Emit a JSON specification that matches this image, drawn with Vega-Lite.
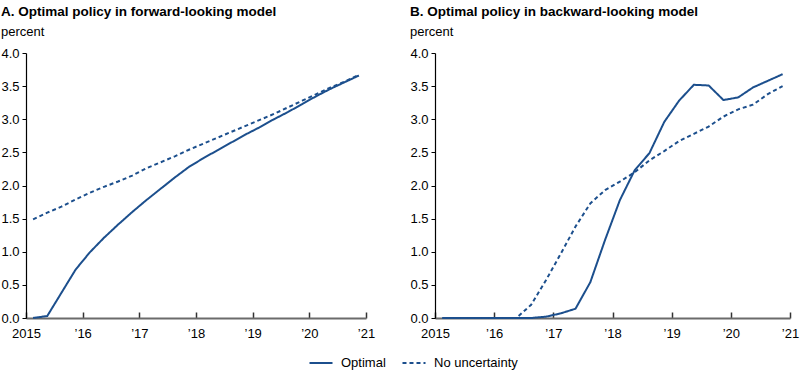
{
  "$schema": "https://vega.github.io/schema/vega-lite/v6.json",
  "padding": {"left": 0, "top": 4, "right": 3, "bottom": 0},
  "background": "white",
  "config": {
    "font": "Liberation Sans",
    "view": {"stroke": null},
    "axis": {"grid": false, "labelFont": "Liberation Sans", "labelFontSize": 13, "labelColor": "#000", "title": null},
    "title": {"anchor": "start", "frame": "bounds", "font": "Liberation Sans", "fontSize": 13.5, "fontWeight": "bold", "color": "#000", "subtitleFont": "Liberation Sans", "subtitleFontSize": 13, "subtitleColor": "#000", "subtitlePadding": 8, "offset": 8},
    "legend": {"labelFont": "Liberation Sans", "labelFontSize": 13, "labelColor": "#000"},
    "concat": {"spacing": 34}
  },
  "datasets": {
    "a": [
      {"year": 2015.125, "value": 0.0, "series": "Optimal"},
      {"year": 2015.375, "value": 0.03, "series": "Optimal"},
      {"year": 2015.625, "value": 0.38, "series": "Optimal"},
      {"year": 2015.875, "value": 0.73, "series": "Optimal"},
      {"year": 2016.125, "value": 0.99, "series": "Optimal"},
      {"year": 2016.375, "value": 1.21, "series": "Optimal"},
      {"year": 2016.625, "value": 1.41, "series": "Optimal"},
      {"year": 2016.875, "value": 1.60, "series": "Optimal"},
      {"year": 2017.125, "value": 1.78, "series": "Optimal"},
      {"year": 2017.375, "value": 1.95, "series": "Optimal"},
      {"year": 2017.625, "value": 2.12, "series": "Optimal"},
      {"year": 2017.875, "value": 2.28, "series": "Optimal"},
      {"year": 2018.125, "value": 2.41, "series": "Optimal"},
      {"year": 2018.375, "value": 2.53, "series": "Optimal"},
      {"year": 2018.625, "value": 2.65, "series": "Optimal"},
      {"year": 2018.875, "value": 2.77, "series": "Optimal"},
      {"year": 2019.125, "value": 2.88, "series": "Optimal"},
      {"year": 2019.375, "value": 3.00, "series": "Optimal"},
      {"year": 2019.625, "value": 3.11, "series": "Optimal"},
      {"year": 2019.875, "value": 3.23, "series": "Optimal"},
      {"year": 2020.125, "value": 3.35, "series": "Optimal"},
      {"year": 2020.375, "value": 3.46, "series": "Optimal"},
      {"year": 2020.625, "value": 3.56, "series": "Optimal"},
      {"year": 2020.875, "value": 3.66, "series": "Optimal"},
      {"year": 2015.125, "value": 1.49, "series": "No uncertainty"},
      {"year": 2015.375, "value": 1.59, "series": "No uncertainty"},
      {"year": 2015.625, "value": 1.68, "series": "No uncertainty"},
      {"year": 2015.875, "value": 1.79, "series": "No uncertainty"},
      {"year": 2016.125, "value": 1.89, "series": "No uncertainty"},
      {"year": 2016.375, "value": 1.98, "series": "No uncertainty"},
      {"year": 2016.625, "value": 2.06, "series": "No uncertainty"},
      {"year": 2016.875, "value": 2.15, "series": "No uncertainty"},
      {"year": 2017.125, "value": 2.26, "series": "No uncertainty"},
      {"year": 2017.375, "value": 2.35, "series": "No uncertainty"},
      {"year": 2017.625, "value": 2.44, "series": "No uncertainty"},
      {"year": 2017.875, "value": 2.54, "series": "No uncertainty"},
      {"year": 2018.125, "value": 2.63, "series": "No uncertainty"},
      {"year": 2018.375, "value": 2.72, "series": "No uncertainty"},
      {"year": 2018.625, "value": 2.81, "series": "No uncertainty"},
      {"year": 2018.875, "value": 2.90, "series": "No uncertainty"},
      {"year": 2019.125, "value": 2.99, "series": "No uncertainty"},
      {"year": 2019.375, "value": 3.08, "series": "No uncertainty"},
      {"year": 2019.625, "value": 3.18, "series": "No uncertainty"},
      {"year": 2019.875, "value": 3.28, "series": "No uncertainty"},
      {"year": 2020.125, "value": 3.38, "series": "No uncertainty"},
      {"year": 2020.375, "value": 3.48, "series": "No uncertainty"},
      {"year": 2020.625, "value": 3.57, "series": "No uncertainty"},
      {"year": 2020.875, "value": 3.67, "series": "No uncertainty"}
    ],
    "b": [
      {"year": 2015.125, "value": 0.0, "series": "Optimal"},
      {"year": 2015.375, "value": 0.0, "series": "Optimal"},
      {"year": 2015.625, "value": 0.0, "series": "Optimal"},
      {"year": 2015.875, "value": 0.0, "series": "Optimal"},
      {"year": 2016.125, "value": 0.0, "series": "Optimal"},
      {"year": 2016.375, "value": 0.0, "series": "Optimal"},
      {"year": 2016.625, "value": 0.0, "series": "Optimal"},
      {"year": 2016.875, "value": 0.02, "series": "Optimal"},
      {"year": 2017.125, "value": 0.07, "series": "Optimal"},
      {"year": 2017.375, "value": 0.14, "series": "Optimal"},
      {"year": 2017.625, "value": 0.54, "series": "Optimal"},
      {"year": 2017.875, "value": 1.18, "series": "Optimal"},
      {"year": 2018.125, "value": 1.78, "series": "Optimal"},
      {"year": 2018.375, "value": 2.23, "series": "Optimal"},
      {"year": 2018.625, "value": 2.49, "series": "Optimal"},
      {"year": 2018.875, "value": 2.96, "series": "Optimal"},
      {"year": 2019.125, "value": 3.28, "series": "Optimal"},
      {"year": 2019.375, "value": 3.52, "series": "Optimal"},
      {"year": 2019.625, "value": 3.51, "series": "Optimal"},
      {"year": 2019.875, "value": 3.29, "series": "Optimal"},
      {"year": 2020.125, "value": 3.33, "series": "Optimal"},
      {"year": 2020.375, "value": 3.48, "series": "Optimal"},
      {"year": 2020.625, "value": 3.58, "series": "Optimal"},
      {"year": 2020.875, "value": 3.68, "series": "Optimal"},
      {"year": 2015.125, "value": 0.0, "series": "No uncertainty"},
      {"year": 2015.375, "value": 0.0, "series": "No uncertainty"},
      {"year": 2015.625, "value": 0.0, "series": "No uncertainty"},
      {"year": 2015.875, "value": 0.0, "series": "No uncertainty"},
      {"year": 2016.125, "value": 0.0, "series": "No uncertainty"},
      {"year": 2016.375, "value": 0.0, "series": "No uncertainty"},
      {"year": 2016.625, "value": 0.2, "series": "No uncertainty"},
      {"year": 2016.875, "value": 0.57, "series": "No uncertainty"},
      {"year": 2017.125, "value": 0.97, "series": "No uncertainty"},
      {"year": 2017.375, "value": 1.38, "series": "No uncertainty"},
      {"year": 2017.625, "value": 1.73, "series": "No uncertainty"},
      {"year": 2017.875, "value": 1.93, "series": "No uncertainty"},
      {"year": 2018.125, "value": 2.06, "series": "No uncertainty"},
      {"year": 2018.375, "value": 2.2, "series": "No uncertainty"},
      {"year": 2018.625, "value": 2.38, "series": "No uncertainty"},
      {"year": 2018.875, "value": 2.52, "series": "No uncertainty"},
      {"year": 2019.125, "value": 2.67, "series": "No uncertainty"},
      {"year": 2019.375, "value": 2.78, "series": "No uncertainty"},
      {"year": 2019.625, "value": 2.89, "series": "No uncertainty"},
      {"year": 2019.875, "value": 3.04, "series": "No uncertainty"},
      {"year": 2020.125, "value": 3.15, "series": "No uncertainty"},
      {"year": 2020.375, "value": 3.22, "series": "No uncertainty"},
      {"year": 2020.625, "value": 3.38, "series": "No uncertainty"},
      {"year": 2020.875, "value": 3.5, "series": "No uncertainty"}
    ]
  },
  "hconcat": [
    {
      "title": {"text": "A. Optimal policy in forward-looking model", "subtitle": "percent"},
      "width": 340,
      "height": 265,
      "data": {"name": "a"},
      "mark": {"type": "line", "strokeWidth": 2, "color": "#1c4f8d"},
      "encoding": {
        "x": {"field": "year", "type": "quantitative", "scale": {"domain": [2015, 2021], "nice": false, "zero": false},
          "axis": {"values": [2015, 2016, 2017, 2018, 2019, 2020, 2021], "labelExpr": "datum.value == 2015 ? '2015' : '’' + slice(toString(datum.value), 2)", "tickSize": -6, "tickColor": "#333", "tickWidth": 1.5, "labelPadding": 15, "domainColor": "#6b6b6b", "domainWidth": 2, "labelFlush": false}},
        "y": {"field": "value", "type": "quantitative", "scale": {"domain": [0, 4], "nice": false},
          "axis": {"values": [0, 0.5, 1, 1.5, 2, 2.5, 3, 3.5, 4], "format": ".1f", "tickSize": 4, "tickColor": "#000", "domainColor": "#000", "domainWidth": 1.2, "labelPadding": 3}},
        "strokeDash": {"field": "series", "type": "nominal", "scale": {"domain": ["Optimal", "No uncertainty"], "range": [[1, 0], [4, 3]]},
          "legend": {"title": null, "orient": "none", "legendX": 282, "legendY": 297, "direction": "horizontal", "symbolSize": 530, "symbolStrokeWidth": 2, "symbolStrokeColor": "#1c4f8d", "columnPadding": 12, "labelOffset": 7}}
      }
    },
    {
      "title": {"text": "B. Optimal policy in backward-looking model", "subtitle": "percent"},
      "width": 355,
      "height": 265,
      "data": {"name": "b"},
      "mark": {"type": "line", "strokeWidth": 2, "color": "#1c4f8d"},
      "encoding": {
        "x": {"field": "year", "type": "quantitative", "scale": {"domain": [2015, 2021], "nice": false, "zero": false},
          "axis": {"values": [2015, 2016, 2017, 2018, 2019, 2020, 2021], "labelExpr": "datum.value == 2015 ? '2015' : '’' + slice(toString(datum.value), 2)", "tickSize": -6, "tickColor": "#333", "tickWidth": 1.5, "labelPadding": 15, "domainColor": "#6b6b6b", "domainWidth": 2, "labelFlush": false}},
        "y": {"field": "value", "type": "quantitative", "scale": {"domain": [0, 4], "nice": false},
          "axis": {"values": [0, 0.5, 1, 1.5, 2, 2.5, 3, 3.5, 4], "format": ".1f", "tickSize": 4, "tickColor": "#000", "domainColor": "#000", "domainWidth": 1.2, "labelPadding": 3}},
        "strokeDash": {"field": "series", "type": "nominal", "scale": {"domain": ["Optimal", "No uncertainty"], "range": [[1, 0], [4, 3]]},
          "legend": {"title": null, "orient": "none", "legendX": 282, "legendY": 297, "direction": "horizontal", "symbolSize": 530, "symbolStrokeWidth": 2, "symbolStrokeColor": "#1c4f8d", "columnPadding": 12, "labelOffset": 7}}
      }
    }
  ],
  "resolve": {"legend": {"strokeDash": "shared"}}
}
